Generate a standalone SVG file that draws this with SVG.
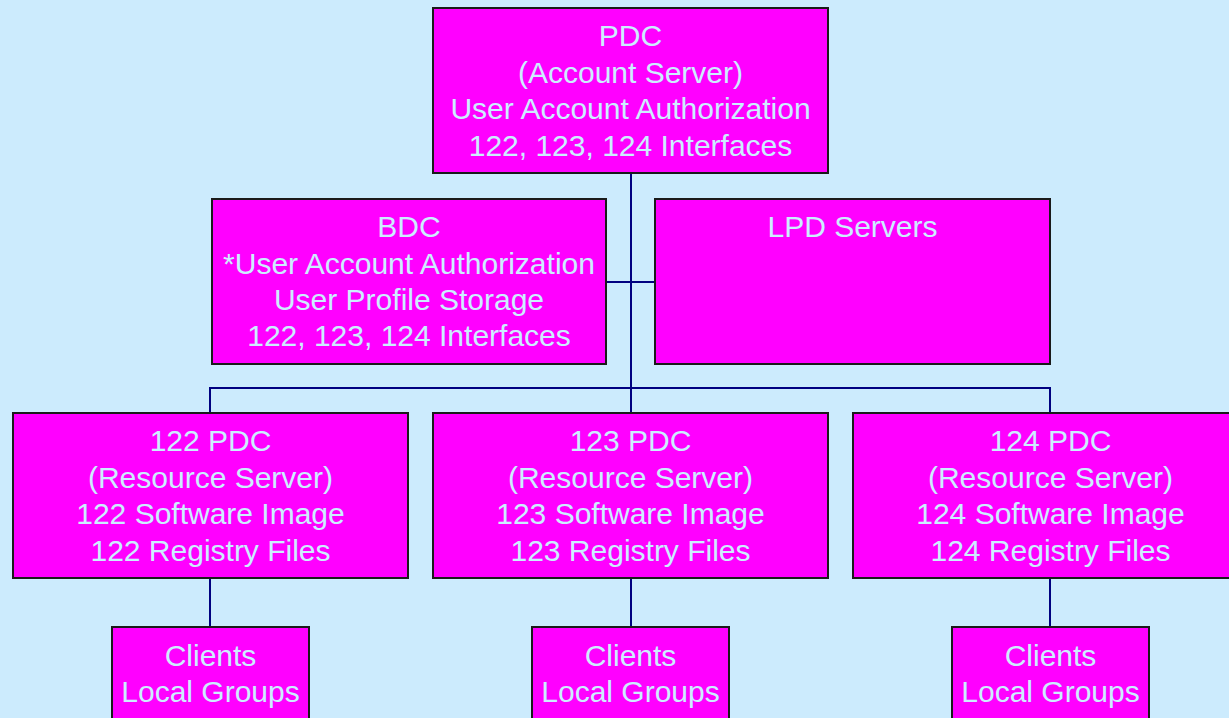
<svg xmlns="http://www.w3.org/2000/svg" width="1229" height="718" viewBox="0 0 1229 718">
<style>
.box{fill:#FF00FF;stroke:#1a1a1a;stroke-width:2}
.t{font-family:"Liberation Sans",Arial,sans-serif;font-size:30px;fill:#CCEEFF;text-anchor:middle}
.c{stroke:#000080;stroke-width:2;fill:none}
</style>
<rect width="1229" height="718" fill="#CCEBFD"/>
<g id="connectors">
<path class="c" d="M631 173V413M606 282H655M210 413V388H1050V413M210 578V627M631 578V627M1050 578V627"/>
</g>
<g id="pdc">
<rect class="box" x="433" y="8" width="395" height="165"/>
<text class="t" x="630.5" y="46">PDC</text>
<text class="t" x="630.5" y="83">(Account Server)</text>
<text class="t" x="630.5" y="119">User Account Authorization</text>
<text class="t" x="630.5" y="156">122, 123, 124 Interfaces</text>
</g>
<g id="bdc">
<rect class="box" x="212" y="199" width="394" height="165"/>
<text class="t" x="409" y="237">BDC</text>
<text class="t" x="409" y="274">*User Account Authorization</text>
<text class="t" x="409" y="310">User Profile Storage</text>
<text class="t" x="409" y="346">122, 123, 124 Interfaces</text>
</g>
<g id="lpd">
<rect class="box" x="655" y="199" width="395" height="165"/>
<text class="t" x="852.5" y="237">LPD Servers</text>
</g>
<g id="pdc122">
<rect class="box" x="13" y="413" width="395" height="165"/>
<text class="t" x="210.5" y="451">122 PDC</text>
<text class="t" x="210.5" y="488">(Resource Server)</text>
<text class="t" x="210.5" y="524">122 Software Image</text>
<text class="t" x="210.5" y="561">122 Registry Files</text>
</g>
<g id="pdc123">
<rect class="box" x="433" y="413" width="395" height="165"/>
<text class="t" x="630.5" y="451">123 PDC</text>
<text class="t" x="630.5" y="488">(Resource Server)</text>
<text class="t" x="630.5" y="524">123 Software Image</text>
<text class="t" x="630.5" y="561">123 Registry Files</text>
</g>
<g id="pdc124">
<rect class="box" x="853" y="413" width="395" height="165"/>
<text class="t" x="1050.5" y="451">124 PDC</text>
<text class="t" x="1050.5" y="488">(Resource Server)</text>
<text class="t" x="1050.5" y="524">124 Software Image</text>
<text class="t" x="1050.5" y="561">124 Registry Files</text>
</g>
<g id="clients122">
<rect class="box" x="112" y="627" width="197" height="110"/>
<text class="t" x="210.5" y="666">Clients</text>
<text class="t" x="210.5" y="702">Local Groups</text>
</g>
<g id="clients123">
<rect class="box" x="532" y="627" width="197" height="110"/>
<text class="t" x="630.5" y="666">Clients</text>
<text class="t" x="630.5" y="702">Local Groups</text>
</g>
<g id="clients124">
<rect class="box" x="952" y="627" width="197" height="110"/>
<text class="t" x="1050.5" y="666">Clients</text>
<text class="t" x="1050.5" y="702">Local Groups</text>
</g>
</svg>
